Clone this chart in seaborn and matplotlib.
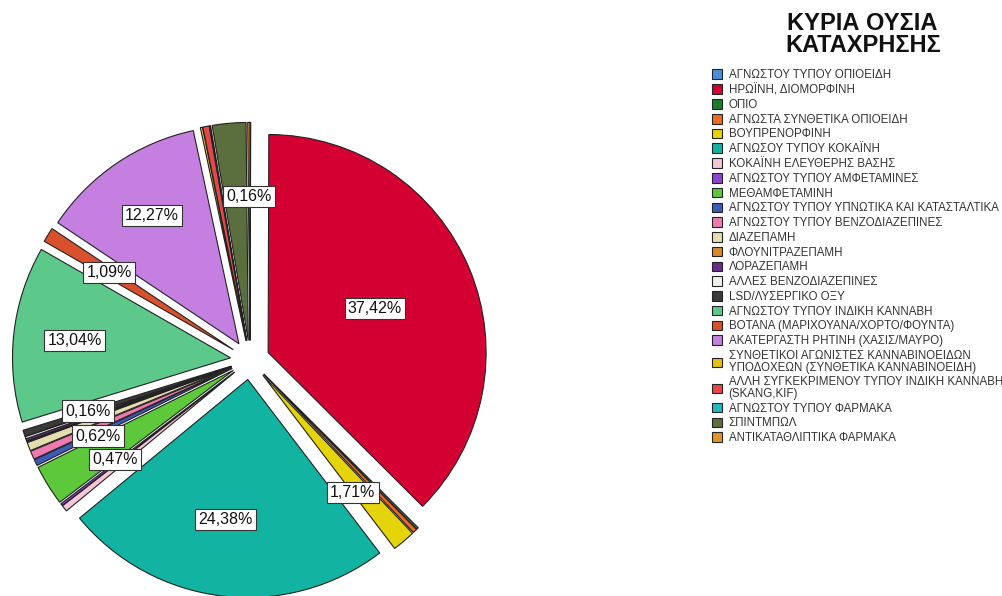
import numpy as np
import matplotlib
matplotlib.use("Agg")
import matplotlib.pyplot as plt
import seaborn as sns

# substances in the order SPSS draws them (clockwise from 12 o'clock)
substances = [
    "ΑΓΝΩΣΤΟΥ ΤΥΠΟΥ ΟΠΙΟΕΙΔΗ",
    "ΗΡΩΪΝΗ, ΔΙΟΜΟΡΦΙΝΗ",
    "ΟΠΙΟ",
    "ΑΓΝΩΣΤΑ ΣΥΝΘΕΤΙΚΑ ΟΠΙΟΕΙΔΗ",
    "ΒΟΥΠΡΕΝΟΡΦΙΝΗ",
    "ΑΓΝΩΣΟΥ ΤΥΠΟΥ ΚΟΚΑΪΝΗ",
    "ΚΟΚΑΪΝΗ ΕΛΕΥΘΕΡΗΣ ΒΑΣΗΣ",
    "ΑΓΝΩΣΤΟΥ ΤΥΠΟΥ ΑΜΦΕΤΑΜΙΝΕΣ",
    "ΜΕΘΑΜΦΕΤΑΜΙΝΗ",
    "ΑΓΝΩΣΤΟΥ ΤΥΠΟΥ ΥΠΝΩΤΙΚΑ ΚΑΙ ΚΑΤΑΣΤΑΛΤΙΚΑ",
    "ΑΓΝΩΣΤΟΥ ΤΥΠΟΥ ΒΕΝΖΟΔΙΑΖΕΠΙΝΕΣ",
    "ΔΙΑΖΕΠΑΜΗ",
    "ΦΛΟΥΝΙΤΡΑΖΕΠΑΜΗ",
    "ΛΟΡΑΖΕΠΑΜΗ",
    "ΑΛΛΕΣ ΒΕΝΖΟΔΙΑΖΕΠΙΝΕΣ",
    "LSD/ΛΥΣΕΡΓΙΚΟ ΟΞΥ",
    "ΑΓΝΩΣΤΟΥ ΤΥΠΟΥ ΙΝΔΙΚΗ ΚΑΝΝΑΒΗ",
    "ΒΟΤΑΝΑ (ΜΑΡΙΧΟΥΑΝΑ/ΧΟΡΤΟ/ΦΟΥΝΤΑ)",
    "ΑΚΑΤΕΡΓΑΣΤΗ ΡΗΤΙΝΗ (ΧΑΣΙΣ/ΜΑΥΡΟ)",
    "ΣΥΝΘΕΤΙΚΟΙ ΑΓΩΝΙΣΤΕΣ ΚΑΝΝΑΒΙΝΟΕΙΔΩΝ\nΥΠΟΔΟΧΕΩΝ (ΣΥΝΘΕΤΙΚΑ ΚΑΝΝΑΒΙΝΟΕΙΔΗ)",
    "ΑΛΛΗ ΣΥΓΚΕΚΡΙΜΕΝΟΥ ΤΥΠΟΥ ΙΝΔΙΚΗ ΚΑΝΝΑΒΗ\n(SKANG,KIF)",
    "ΑΓΝΩΣΤΟΥ ΤΥΠΟΥ ΦΑΡΜΑΚΑ",
    "ΣΠΙΝΤΜΠΩΛ",
    "ΑΝΤΙΚΑΤΑΘΛΙΠΤΙΚΑ ΦΑΡΜΑΚΑ",
]

# percentages (read / estimated from the picture)
percent = [0.05, 37.42, 0.16, 0.31, 1.71, 24.38, 0.47, 0.16, 3.00, 0.47,
           0.62, 0.62, 0.08, 0.16, 0.16, 0.47, 13.04, 1.09, 12.27, 0.16,
           0.47, 0.08, 2.49, 0.16]

colors = ["#4A90D9", "#D50032", "#1E7B2E", "#F06A24", "#E5D40A", "#12B3A0",
          "#F4C6DA", "#8E44D0", "#5CC83A", "#3D5AB8", "#F07AB0", "#E5DDB0",
          "#D9882A", "#6A2C91", "#F2F0E6", "#3A3A3A", "#5CC98B", "#D9512C",
          "#C47FE0", "#E3C10E", "#E8454A", "#22B8C0", "#5B6E3D", "#E0932A"]

# which slices carry a percentage label
labelled = {1: "37,42%", 4: "1,71%", 5: "24,38%", 6: "0,47%", 10: "0,62%",
            14: "0,16%", 16: "13,04%", 17: "1,09%", 18: "12,27%", 23: "0,16%"}

# label placement: radius (fraction of pie radius) and angular nudge (deg, clockwise)
label_r = {1: 0.62, 4: 0.77, 5: 0.74, 6: 0.77, 10: 0.78,
           14: 0.78, 16: 0.81, 17: 0.76, 18: 0.80, 23: 0.75}
label_dtheta = {4: 2.6, 5: 2.1, 6: 2.2, 10: -3.0, 14: 1.6}

sns.set_theme(style="white")
plt.rcParams["font.family"] = ["Liberation Sans", "DejaVu Sans"]

fig = plt.figure(figsize=(10.03, 5.96), dpi=100)
R = 218  # pie radius in px
span = 1.15
w = 2 * span * R
ax = fig.add_axes([(250 - w / 2) / 1003, (596 - 360 - w / 2) / 596, w / 1003, w / 596])

wedges, _ = ax.pie(percent, colors=colors, startangle=90, counterclock=False,
                   explode=[0.09] * len(percent),
                   wedgeprops=dict(edgecolor="#222222", linewidth=0.8))
ax.set_xlim(-span, span)
ax.set_ylim(-span, span)
ax.set_aspect("equal")
ax.axis("off")

for i, txt in labelled.items():
    wd = wedges[i]
    mid = np.deg2rad((wd.theta1 + wd.theta2) / 2 - label_dtheta.get(i, 0))
    r = label_r[i]
    ax.text(r * np.cos(mid), r * np.sin(mid), txt, ha="center", va="center",
            fontsize=11.5, color="#111111",
            bbox=dict(boxstyle="square,pad=0.2", fc="white", ec="#333333", lw=0.8))

fig.text(862 / 1003, 1 - 23 / 596, "ΚΥΡΙΑ ΟΥΣΙΑ", ha="center", va="center",
         fontsize=17, fontweight="bold", color="#111111")
fig.text(863 / 1003, 1 - 45 / 596, "ΚΑΤΑΧΡΗΣΗΣ", ha="center", va="center",
         fontsize=17, fontweight="bold", color="#111111")

leg = fig.legend(wedges, substances, loc="upper left",
                 bbox_to_anchor=(712 / 1003, 1 - 69 / 596), frameon=False,
                 fontsize=8.3, handlelength=0.9, handleheight=0.9, handletextpad=0.55,
                 labelspacing=0.24, borderaxespad=0, borderpad=0)
for t in leg.get_texts():
    t.set_color("#333333")
    t.set_linespacing(0.95)

fig.savefig("out.png", dpi=100)
